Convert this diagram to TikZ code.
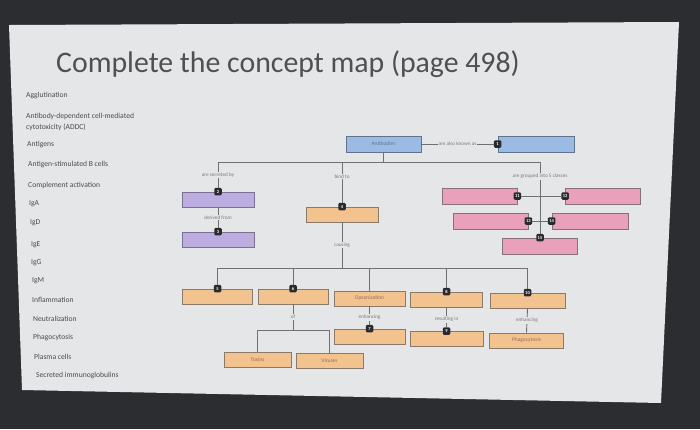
\documentclass[tikz,border=0pt]{standalone}
\usepackage{fontspec}
\setmainfont{Carlito}
\usepackage{xcolor}
\usetikzlibrary{positioning, calc}

\definecolor{screen}{HTML}{2B2D30}
\definecolor{slide}{HTML}{E4E6E8}
\definecolor{titlegray}{HTML}{4E5052}
\definecolor{listgray}{HTML}{4A4C4E}
\definecolor{linegray}{HTML}{6E7073}
\definecolor{labelgray}{HTML}{77797B}
\definecolor{bluefill}{HTML}{9BBBE4}
\definecolor{blueedge}{HTML}{62738C}
\definecolor{purplefill}{HTML}{BBADDF}
\definecolor{purpleedge}{HTML}{7B7090}
\definecolor{orangefill}{HTML}{F2C38F}
\definecolor{orangeedge}{HTML}{8B7A6A}
\definecolor{pinkfill}{HTML}{E9A0BA}
\definecolor{pinkedge}{HTML}{86707A}
\definecolor{badgecol}{HTML}{2A2A2E}
\definecolor{boxtext}{HTML}{9A6C55}

\begin{document}
\begin{tikzpicture}[x=1pt, y=-1pt,
    box/.style={draw, line width=0.8pt, minimum width=72pt, minimum height=15pt,
      inner sep=0pt, font=\fontsize{5.5}{6}\selectfont, text=boxtext},
    bluebox/.style={box, fill=bluefill, draw=blueedge, minimum width=75pt, minimum height=16pt, text=blueedge},
    purplebox/.style={box, fill=purplefill, draw=purpleedge},
    orangebox/.style={box, fill=orangefill, draw=orangeedge},
    pinkbox/.style={box, fill=pinkfill, draw=pinkedge, minimum width=75pt, minimum height=16pt},
    badge/.style={fill=badgecol, rounded corners=1.3pt, minimum size=7.5pt, inner sep=0pt,
      text=white, font=\fontsize{4.5}{5}\selectfont\bfseries},
    lbl/.style={fill=slide, inner sep=1pt, text=labelgray, font=\fontsize{5.2}{6}\selectfont},
    word/.style={anchor=west, inner sep=0pt, text=listgray, font=\fontsize{7.6}{8}\selectfont},
    link/.style={draw=linegray, line width=0.9pt}]
    % Screen and slide
    \useasboundingbox (0,0) rectangle (700,429);
    \fill[screen] (0,0) rectangle (700,429);
    \fill[slide] (9,25) -- (679,22) -- (661,403) -- (22,390) -- cycle;

    % Title
    \node[anchor=base west, inner sep=0pt, text=titlegray,
      font=\fontsize{29.8}{30}\selectfont] (title) at (56,72) {Complete the concept map (page 498)};

    % Word list
    \node[word] (w1) at (26,96) {Agglutination};
    \node[word] (w2) at (26,116) {Antibody-dependent cell-mediated};
    \node[word] (w3) at (26,127) {cytotoxicity (ADDC)};
    \node[word] (w4) at (27,145) {Antigens};
    \node[word] (w5) at (28,165) {Antigen-stimulated B cells};
    \node[word] (w6) at (28,185) {Complement activation};
    \node[word] (w7) at (29,204) {IgA};
    \node[word] (w8) at (30,223) {IgD};
    \node[word] (w9) at (31,245) {IgE};
    \node[word] (w10) at (31,263) {IgG};
    \node[word] (w11) at (32,281) {IgM};
    \node[word] (w12) at (32,300) {Inflammation};
    \node[word] (w13) at (33,319) {Neutralization};
    \node[word] (w14) at (33,338) {Phagocytosis};
    \node[word] (w15) at (34,357) {Plasma cells};
    \node[word] (w16) at (36,376) {Secreted immunoglobulins};

    % Boxes
    \node[bluebox] (antibodies) at (383.5,144) {Antibodies};
    \node[bluebox, minimum width=76pt] (known) at (536,144) {};
    \node[purplebox] (secreted) at (218,199.5) {};
    \node[purplebox] (derived) at (218,239.5) {};
    \node[orangebox] (bind) at (342,214.5) {};
    \node[orangebox, minimum width=70pt] (box5) at (217.5,296.5) {};
    \node[orangebox, minimum width=70pt] (box6) at (293,296.5) {};
    \node[orangebox, minimum width=71pt] (opson) at (369.5,298.5) {Opsonization};
    \node[orangebox] (box8) at (446.5,299.5) {};
    \node[orangebox, minimum width=75pt] (box10) at (527.5,300.5) {};
    \node[orangebox, minimum width=71pt] (box7) at (369.5,336.5) {};
    \node[orangebox, minimum width=73pt] (box9) at (446.5,339) {};
    \node[orangebox, minimum width=74pt] (phago) at (526.5,340.5) {Phagocytosis};
    \node[orangebox, minimum width=67pt] (toxins) at (257.5,359.5) {Toxins};
    \node[orangebox, minimum width=67pt] (viruses) at (329.5,360.5) {Viruses};
    \node[pinkbox] (pink11) at (479.5,196) {};
    \node[pinkbox] (pink12) at (603,196) {};
    \node[pinkbox] (pink13) at (490.5,221) {};
    \node[pinkbox, minimum width=76pt] (pink14) at (590,221) {};
    \node[pinkbox] (pink15) at (540,246) {};

    % Number badges
    \node[badge] (b1) at (known.west) {1};
    \node[badge] (b2) at (secreted.north) {2};
    \node[badge] (b3) at (derived.north) {3};
    \node[badge] (b4) at (bind.north) {4};
    \node[badge] (b5) at (box5.north) {5};
    \node[badge] (b6) at (box6.north) {6};
    \node[badge] (b7) at (box7.north) {7};
    \node[badge] (b8) at (box8.north) {8};
    \node[badge] (b9) at (box9.north) {9};
    \node[badge] (b10) at (box10.north) {10};
    \node[badge] (b11) at (pink11.east) {11};
    \node[badge] (b12) at (pink12.west) {12};
    \node[badge] (b13) at (pink13.east) {13};
    \node[badge] (b14) at (pink14.west) {14};
    \node[badge] (b15) at (pink15.north) {15};

    % Junction points
    \coordinate (split) at (383.5,162);
    \coordinate (cause) at (342,268);
    \coordinate (ofsplit) at (293,330);

    % Top branch
    \draw[link] (antibodies.east) -- (b1) node[lbl, midway] {are also known as};
    \draw[link] (antibodies.south) -- (split);
    \draw[link] (b2 |- split) -- (b15 |- split);
    \draw[link] (b2 |- split) -- (b2) node[lbl, midway] {are secreted by};
    \draw[link] (b4 |- split) -- (b4) node[lbl, pos=0.36] {bind to};
    \draw[link] (b15 |- split) -- (b15) node[lbl, pos=0.2] {are grouped into 5 classes};
    \draw[link] (secreted.south) -- (b3) node[lbl, midway] {derived from};

    % Classes
    \draw[link] (b11) -- (b12);
    \draw[link] (b13) -- (b14);

    % Lower branch
    \draw[link] (bind.south) -- (cause) node[lbl, midway] {causing};
    \draw[link] (b5 |- cause) -- (b10 |- cause);
    \draw[link] (b5 |- cause) -- (b5);
    \draw[link] (b6 |- cause) -- (b6);
    \draw[link] (opson.north |- cause) -- (opson.north);
    \draw[link] (b8 |- cause) -- (b8);
    \draw[link] (b10 |- cause) -- (b10);
    \draw[link] (box6.south) -- (ofsplit) node[lbl, midway] {of};
    \draw[link] (toxins.north |- ofsplit) -- (viruses.north |- ofsplit);
    \draw[link] (toxins.north |- ofsplit) -- (toxins.north);
    \draw[link] (viruses.north |- ofsplit) -- (viruses.north);
    \draw[link] (opson.south) -- (b7) node[lbl, pos=0.6] {enhancing};
    \draw[link] (box8.south) -- (b9) node[lbl, pos=0.6] {resulting in};
    \draw[link] (box10.south) -- (phago.north) node[lbl, midway] {enhancing};
\end{tikzpicture}
\end{document}
